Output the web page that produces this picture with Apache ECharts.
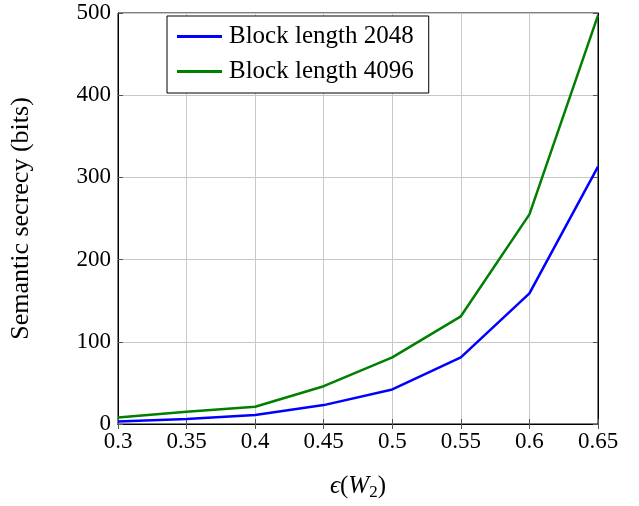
<!DOCTYPE html>
<html><head><meta charset="utf-8">
<script src="https://cdn.jsdelivr.net/npm/echarts@6/dist/echarts.min.js"></script>
<style>html,body{margin:0;padding:0;background:#fff}#c{width:639px;height:506px}</style>
</head><body><div id="c"></div>
<script>
const xValues = [0.3, 0.35, 0.4, 0.45, 0.5, 0.55, 0.6, 0.65];
const block2048 = [3, 6, 11, 23, 42, 81, 159, 313];
const block4096 = [8, 15, 21, 46, 81, 131, 255, 497];
const seriesNames = ['Block length 2048', 'Block length 4096'];
const xTicks = [0.3, 0.35, 0.4, 0.45, 0.5, 0.55, 0.6, 0.65];
const yTicks = [0, 100, 200, 300, 400, 500];

const font = '"Liberation Serif", "Times New Roman", serif';
const chart = echarts.init(document.getElementById('c'));
const pair = arr => xValues.map((x, i) => [x, arr[i]]);
const gridLine = {show: true, lineStyle: {color: '#c8c8c8', width: 1}};
chart.setOption({
  animation: false,
  backgroundColor: '#fff',
  grid: {left: 118, right: 41, top: 13, bottom: 80.5, show: true, borderColor: '#000', borderWidth: 1},
  legend: {
    left: 167, top: 16, orient: 'vertical',
    backgroundColor: '#fff', borderColor: '#000', borderWidth: 1,
    padding: [8, 15, 9, 10], itemGap: 10,
    itemWidth: 45, itemHeight: 3, icon: 'rect',
    textStyle: {fontFamily: font, fontSize: 25, color: '#000', padding: [0, 0, 0, 2]},
    data: seriesNames
  },
  xAxis: [{
    type: 'value', min: 0.3, max: 0.65, interval: 0.05,
    axisLine: {show: true, lineStyle: {color: '#000'}},
    axisTick: {show: true, inside: true, length: 5, lineStyle: {color: '#555'}},
    splitLine: gridLine,
    axisLabel: {fontFamily: font, fontSize: 23, color: '#000', margin: 6,
      formatter: v => xTicks.some(t => Math.abs(t - v) < 1e-9) ? String(+v.toFixed(2)) : ''},
    name: '{i|ϵ}({i|W}{s|2})',
    nameLocation: 'middle', nameGap: 48,
    nameTextStyle: {fontFamily: font, fontSize: 25, color: '#000',
      rich: {i: {fontFamily: font, fontSize: 25, fontStyle: 'italic'},
             s: {fontFamily: font, fontSize: 17, verticalAlign: 'bottom', padding: [12, 0, 0, 0]}}}
  }, {
    type: 'value', position: 'top', min: 0.3, max: 0.65, interval: 0.05,
    axisLine: {show: true, lineStyle: {color: '#000'}},
    axisTick: {show: true, inside: true, length: 5, lineStyle: {color: '#555'}},
    axisLabel: {show: false}, splitLine: {show: false}
  }],
  yAxis: [{
    type: 'value', min: 0, max: 500, interval: 100,
    axisLine: {show: true, lineStyle: {color: '#000'}},
    axisTick: {show: true, inside: true, length: 5, lineStyle: {color: '#555'}},
    splitLine: gridLine,
    axisLabel: {fontFamily: font, fontSize: 23, color: '#000', margin: 7,
      formatter: v => yTicks.includes(v) ? String(v) : ''},
    name: 'Semantic secrecy (bits)', nameLocation: 'middle', nameGap: 84, nameRotate: 90,
    nameTextStyle: {fontFamily: font, fontSize: 26, color: '#000'}
  }, {
    type: 'value', position: 'right', min: 0, max: 500, interval: 100,
    axisLine: {show: true, lineStyle: {color: '#000'}},
    axisTick: {show: true, inside: true, length: 5, lineStyle: {color: '#555'}},
    axisLabel: {show: false}, splitLine: {show: false}
  }],
  series: [
    {name: seriesNames[0], type: 'line', data: pair(block2048), showSymbol: false, symbol: 'none',
     lineStyle: {color: '#0000ff', width: 2.5}, itemStyle: {color: '#0000ff'}, z: 3},
    {name: seriesNames[1], type: 'line', data: pair(block4096), showSymbol: false, symbol: 'none',
     lineStyle: {color: '#008000', width: 2.5}, itemStyle: {color: '#008000'}, z: 3}
  ]
});
</script></body></html>
